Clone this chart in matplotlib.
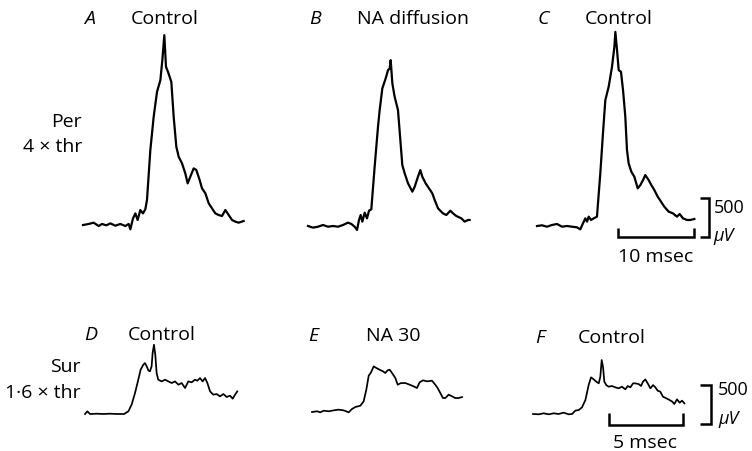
import matplotlib
matplotlib.use("Agg")
import matplotlib.pyplot as plt

W, H, DPI = 752, 451, 100

# averaged responses: time from sweep start (ms), amplitude above baseline (µV)
# Per 4 x thr
t_a = [0, 0.75, 1.40, 2.06, 2.50, 3.07, 3.60, 4.25, 4.91, 5.57, 6.01, 6.23, 6.58, 6.89,
       7.19, 7.54, 7.89, 8.20, 8.42, 8.86, 9.30, 9.74, 10.18, 10.44, 10.70, 10.92, 11.18,
       11.62, 11.93, 12.28, 12.59, 13.03, 13.46, 13.77, 14.12, 14.56, 14.91, 15.35, 15.66,
       16.10, 16.54, 16.97, 17.41, 17.85, 18.29, 18.73, 19.17, 19.61, 20.04, 20.48, 21.14]
v_a = [0, 13, 30, -13, 13, -4, 21, -9, 13, -13, 13, -56, 85, 149,
       64, 192, 149, 201, 320, 961, 1388, 1708, 1857, 2114, 2434, 2028, 1964,
       1836, 1388, 1003, 875, 790, 662, 534, 619, 726, 705, 576, 470,
       406, 278, 214, 149, 128, 115, 192, 128, 64, 43, 30, 51]

t_b = [0, 0.66, 1.32, 1.97, 2.63, 3.29, 3.95, 4.61, 5.26, 5.70, 6.14, 6.45, 6.71, 6.93,
       7.15, 7.46, 7.76, 8.03, 8.33, 8.77, 9.21, 9.43, 9.78, 10.22, 10.53, 10.75, 10.88,
       11.10, 11.40, 11.84, 12.15, 12.41, 12.72, 13.16, 13.73, 14.04, 14.47, 14.78, 15.04,
       15.48, 15.92, 16.36, 16.67, 17.11, 17.76, 18.20, 18.73, 19.08, 19.52, 20.18, 20.61,
       21.05, 21.27]
v_b = [0, -21, -9, 13, -9, 0, -9, 13, 43, 26, -9, -51, 77, 141,
       56, 171, 98, 196, 214, 760, 1272, 1486, 1764, 1892, 1998, 2020, 2126,
       1828, 1657, 1486, 1102, 781, 675, 547, 440, 504, 632, 717, 632,
       547, 483, 418, 333, 226, 162, 141, 196, 162, 128, 98, 56,
       77, 77]

t_c = [0, 0.66, 1.32, 1.97, 2.63, 3.29, 3.95, 4.61, 5.26, 5.70, 6.05, 6.36, 6.58, 6.80,
       7.11, 7.46, 7.89, 8.33, 8.68, 8.99, 9.43, 9.87, 10.18, 10.31, 10.53, 10.75, 11.05,
       11.32, 11.62, 11.84, 12.06, 12.41, 12.81, 13.25, 13.60, 13.95, 14.25, 14.69, 15.04,
       15.44, 15.88, 16.32, 16.75, 17.32, 17.89, 18.42, 18.77, 19.21, 19.74, 20.18, 20.70]
v_c = [0, 9, -9, 13, 26, -9, 0, -9, -17, -43, 34, 98, 56, 120,
       77, 98, 120, 675, 1187, 1614, 1785, 2041, 2297, 2489, 2255, 1998, 1977,
       1742, 1401, 974, 803, 696, 632, 483, 525, 589, 653, 589, 525,
       461, 376, 312, 248, 184, 162, 120, 154, 98, 77, 77, 90]

# Sur 1.6 x thr
t_d = [0, 0.16, 0.34, 0.79, 1.24, 1.69, 2.14, 2.64, 2.93, 3.15, 3.38, 3.60, 3.76, 3.94,
       4.05, 4.17, 4.28, 4.39, 4.50, 4.57, 4.66, 4.75, 4.84, 4.95, 5.18, 5.41, 5.63,
       5.86, 6.08, 6.31, 6.53, 6.76, 6.98, 7.21, 7.43, 7.59, 7.77, 7.95, 8.11, 8.27,
       8.45, 8.67, 8.90, 9.12, 9.35, 9.57, 9.80, 9.98, 10.14, 10.29]
v_d = [0, 34, 0, 4, 0, 4, 0, 0, 34, 120, 269, 440, 568, 632,
       653, 611, 559, 547, 611, 781, 888, 760, 525, 440, 418, 440, 418,
       397, 418, 376, 397, 333, 418, 406, 440, 427, 461, 418, 461, 397,
       290, 248, 256, 226, 256, 218, 235, 196, 248, 290]

t_e = [0, 0.34, 0.56, 0.79, 1.13, 1.46, 1.80, 2.14, 2.48, 2.70, 2.93, 3.27, 3.49, 3.67,
       3.83, 3.99, 4.17, 4.35, 4.57, 4.80, 4.95, 5.11, 5.25, 5.41, 5.63, 5.79, 6.01,
       6.31, 6.60, 6.87, 7.09, 7.27, 7.50, 7.77, 8.11, 8.33, 8.49, 8.67, 8.85, 9.01,
       9.23, 9.46, 9.68, 9.91, 10.14]
v_e = [0, 9, -4, 17, 9, 21, 30, 21, -4, 38, 64, 81, 137, 286,
       465, 508, 585, 564, 542, 521, 500, 534, 542, 500, 436, 350, 371,
       371, 350, 329, 307, 380, 406, 393, 401, 350, 307, 243, 179, 179,
       222, 201, 179, 179, 192]

t_f = [0, 0.38, 0.72, 1.06, 1.40, 1.73, 2.07, 2.41, 2.64, 2.86, 3.09, 3.31, 3.54, 3.76,
       3.92, 4.10, 4.28, 4.44, 4.55, 4.64, 4.73, 4.82, 4.95, 5.11, 5.34, 5.56, 5.79,
       6.01, 6.24, 6.40, 6.58, 6.76, 6.91, 7.14, 7.30, 7.43, 7.59, 7.75, 7.93, 8.11,
       8.27, 8.42, 8.60, 8.78, 9.01, 9.23, 9.41, 9.55, 9.73, 9.91, 10.07, 10.23]
v_f = [0, -4, 9, -4, 9, 0, 17, -4, 0, 43, 51, 85, 179, 371,
       470, 444, 414, 393, 478, 692, 606, 414, 371, 350, 359, 342, 329,
       350, 316, 359, 342, 393, 393, 384, 359, 414, 444, 393, 329, 371,
       342, 299, 286, 222, 201, 179, 158, 128, 188, 145, 171, 137]

letters = ["A", "B", "C", "D", "E", "F"]
titles = ["Control", "NA diffusion", "Control", "Control", "NA 30", "Control"]

plt.rcParams["font.family"] = ["Open Sans", "DejaVu Sans"]

fig = plt.figure(figsize=(W / DPI, H / DPI), dpi=DPI)


def panel(x0, base, px_ms, px_uv):
    # full-figure axes whose origin (t=0, v=0) sits at pixel (x0, base)
    ax = fig.add_axes([0, 0, 1, 1])
    ax.set_xlim(-x0 / px_ms, (W - x0) / px_ms)
    ax.set_ylim(-(H - base) / px_uv, base / px_uv)
    ax.axis("off")
    ax.patch.set_alpha(0)
    return ax


def txt(x, y, s, size=14, **kw):
    fig.text(x / W, 1 - y / H, s, fontsize=size, va="baseline", **kw)


top_ms, bot_ms, uv = 7.6, 14.8, 0.078
ax_a = panel(83, 225, top_ms, uv)
ax_b = panel(308, 226, top_ms, uv)
ax_c = panel(537, 226, top_ms, uv)
ax_d = panel(85, 414, bot_ms, uv)
ax_e = panel(312, 412, bot_ms, uv)
ax_f = panel(533, 414, bot_ms, uv)

for ax, t, v in [(ax_a, t_a, v_a), (ax_b, t_b, v_b), (ax_c, t_c, v_c)]:
    ax.plot(t, v, color="black", lw=1.6, solid_joinstyle="round")
for ax, t, v in [(ax_d, t_d, v_d), (ax_e, t_e, v_e), (ax_f, t_f, v_f)]:
    ax.plot(t, v, color="black", lw=1.25, solid_joinstyle="round")

# calibration bars
kw = dict(color="black", lw=1.8, solid_capstyle="butt", solid_joinstyle="miter")
ax_c.plot([10.7, 10.7, 20.7, 20.7], [-20, -141, -141, -20], **kw)
ax_c.plot([21.4, 22.6, 22.6, 21.4], [359, 359, -141, -141], **kw)
ax_f.plot([5.14, 5.14, 10.14, 10.14], [13, -141, -141, 13], **kw)
ax_f.plot([11.28, 12.03, 12.03, 11.28], [372, 372, -128, -128], **kw)

# panel letters and conditions
letter_x = [84, 309, 538, 84, 308, 535]
title_x = [131, 357, 585, 128, 366, 578]
row_y = [24, 24, 24, 340, 341, 343]
for lx, tx, y, let, ttl in zip(letter_x, title_x, row_y, letters, titles):
    txt(lx, y, let, style="italic")
    txt(tx, y, ttl)

txt(82, 127, "Per", ha="right")
txt(82, 152, "4 \u00d7 thr", ha="right")
txt(81, 372, "Sur", ha="right")
txt(81, 398, "1\u00b76 \u00d7 thr", ha="right")

txt(714, 213, "500", size=13)
txt(713, 241, "\u03bcV", size=13, style="italic")
txt(656, 262, "10 msec", ha="center")
txt(718, 395, "500", size=13)
txt(718, 424, "\u03bcV", size=13, style="italic")
txt(645, 448, "5 msec", ha="center")

fig.savefig("out.png", dpi=DPI, facecolor="white")
